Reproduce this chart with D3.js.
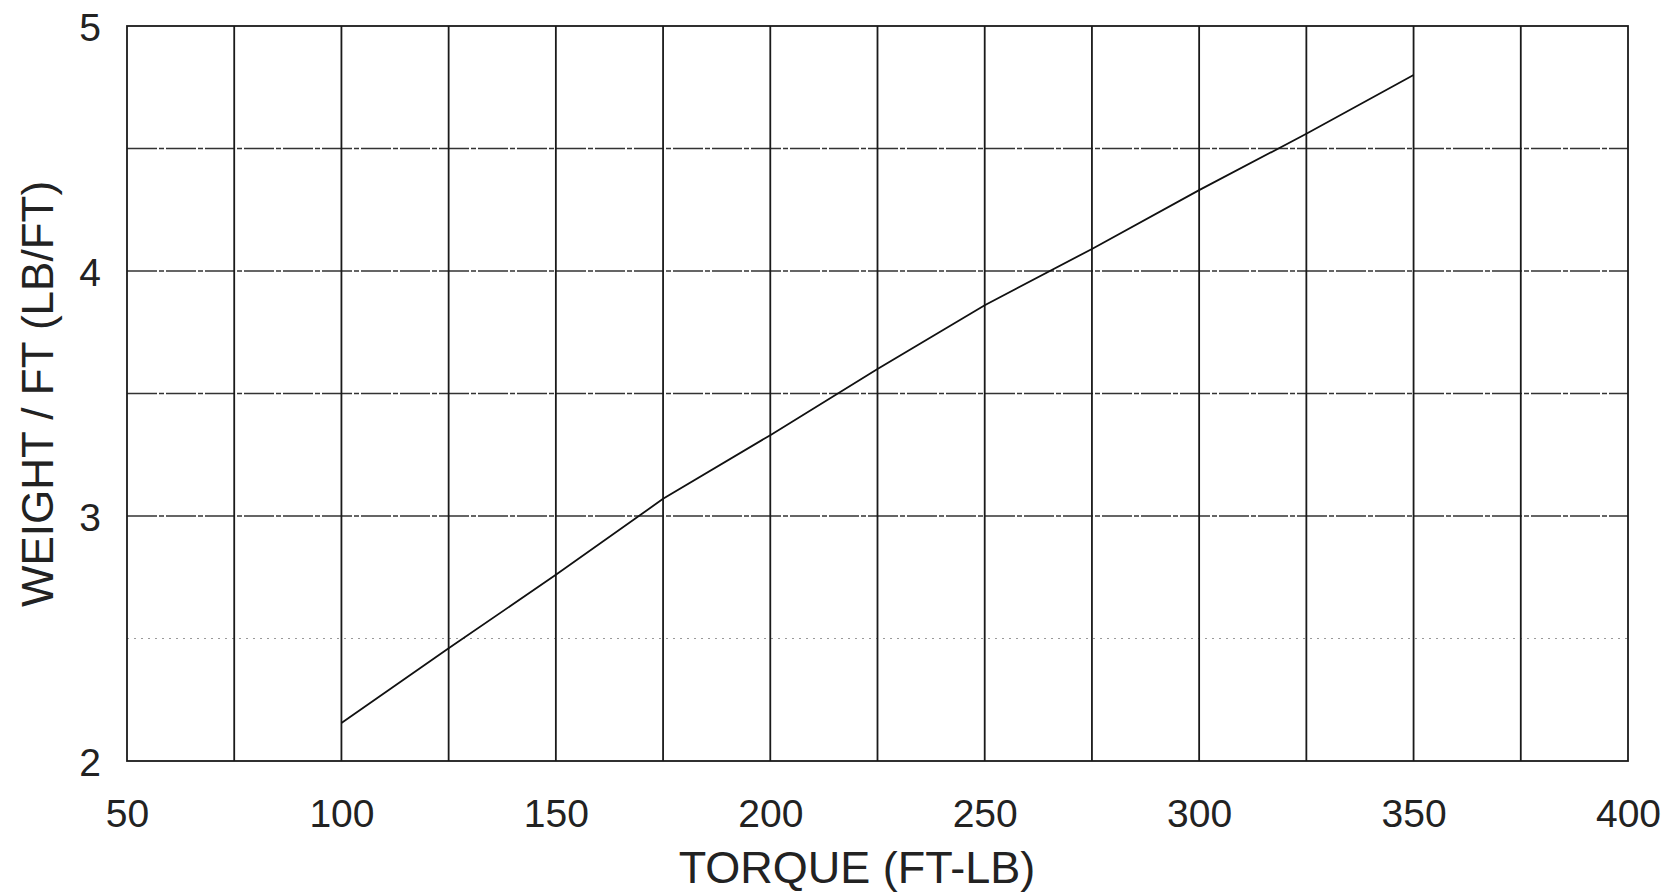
<!DOCTYPE html>
<html>
<head>
<meta charset="utf-8">
<script src="https://cdn.jsdelivr.net/npm/d3@7"></script>
<style>
  html, body { margin: 0; padding: 0; background: #ffffff; }
  svg { display: block; font-family: "Liberation Sans", Arial, sans-serif; }
</style>
</head>
<body>
<svg id="chart" width="1665" height="895"></svg>
<script>
const torque = [100, 125, 150, 175, 200, 225, 250, 275, 300, 325, 350];
const weight = [2.155, 2.46, 2.76, 3.07, 3.33, 3.60, 3.86, 4.09, 4.33, 4.56, 4.80];
const xTicks = [50, 100, 150, 200, 250, 300, 350, 400];
const yTicks = [2, 3, 4, 5];
const xGrid = d3.range(75, 400, 25);
const yGrid = [2.5, 3, 3.5, 4, 4.5];
const xTitle = "TORQUE (FT-LB)";
const yTitle = "WEIGHT / FT (LB/FT)";

const L = 127, R = 1628, T = 26, B = 761;
const svg = d3.select("#chart");
const x = d3.scaleLinear().domain([50, 400]).range([L, R]);
const y = d3.scaleLinear().domain([2, 5]).range([B, T]);

// horizontal grid
svg.append("g").selectAll("line").data(yGrid).join("line")
  .attr("x1", L).attr("x2", R)
  .attr("y1", d => y(d)).attr("y2", d => y(d))
  .attr("stroke", d => d === 2.5 ? "#9a9a9a" : "#333")
  .attr("stroke-width", d => d === 2.5 ? 1 : 1.5)
  .attr("stroke-dasharray", d => d === 2.5 ? "2,5" : "30,2,5,2");

// vertical grid
svg.append("g").selectAll("line").data(xGrid).join("line")
  .attr("x1", d => x(d)).attr("x2", d => x(d))
  .attr("y1", T).attr("y2", B)
  .attr("stroke", "#1a1a1a").attr("stroke-width", 1.8);

// frame
svg.append("rect").attr("x", L).attr("y", T)
  .attr("width", R - L).attr("height", B - T)
  .attr("fill", "none").attr("stroke", "#1a1a1a").attr("stroke-width", 1.8);

// curve
const pts = torque.map((t, i) => [t, weight[i]]);
svg.append("path").datum(pts)
  .attr("fill", "none").attr("stroke", "#111").attr("stroke-width", 1.8)
  .attr("d", d3.line().x(d => x(d[0])).y(d => y(d[1])));

// x axis labels
const xAxis = d3.axisBottom(x).tickValues(xTicks).tickFormat(d3.format("d")).tickSize(0).tickPadding(0);
const gx = svg.append("g").attr("transform", `translate(0,${B})`).call(xAxis);
gx.select(".domain").remove();
gx.selectAll("text").attr("dy", null).attr("y", 66)
  .attr("font-size", 39).attr("fill", "#222")
  .attr("font-family", "Liberation Sans, Arial, sans-serif");

// y axis labels
const yAxis = d3.axisLeft(y).tickValues(yTicks).tickFormat(d3.format("d")).tickSize(0).tickPadding(0);
const gy = svg.append("g").attr("transform", `translate(${L},0)`).call(yAxis);
gy.select(".domain").remove();
gy.selectAll("text").attr("x", -26).attr("dy", "0.36em")
  .attr("font-size", 39).attr("fill", "#222")
  .attr("font-family", "Liberation Sans, Arial, sans-serif");

// titles
svg.append("text").attr("x", 857).attr("y", 883)
  .attr("text-anchor", "middle").attr("font-size", 45).attr("fill", "#222")
  .text(xTitle);
svg.append("text").attr("transform", "translate(53,394) rotate(-90)")
  .attr("text-anchor", "middle").attr("font-size", 44).attr("fill", "#222")
  .text(yTitle);
</script>
</body>
</html>
